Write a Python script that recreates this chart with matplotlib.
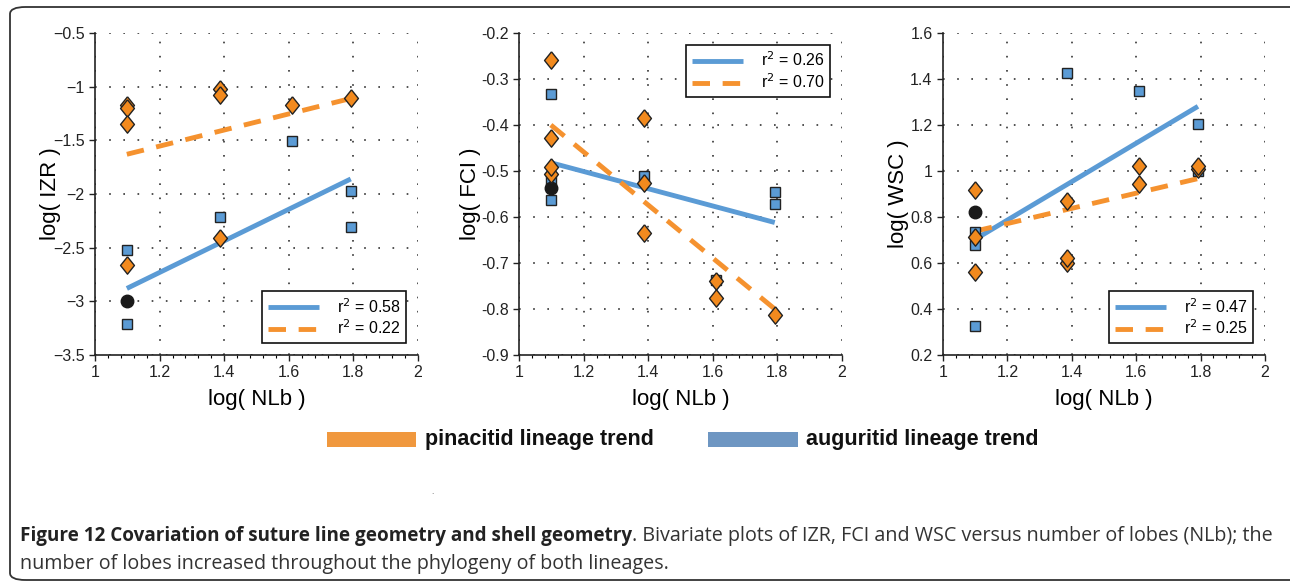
import matplotlib
import matplotlib.pyplot as plt
from matplotlib.patches import FancyBboxPatch, Rectangle
matplotlib.use('Agg')

plt.rcParams['font.family'] = ['Liberation Sans', 'DejaVu Sans']

W, H = 1290, 583

# x positions: log(NLb) for 3, 4, 5, 6 lobes
x3, x4, x5, x6 = 1.0986, 1.3863, 1.6094, 1.7918

# panel 1 - IZR
izr_sq_x = [x3, x3, x4, x5, x6, x6]
izr_sq_y = [-2.52, -3.21, -2.21, -1.51, -1.97, -2.31]
izr_di_x = [x3, x3, x3, x3, x4, x4, x4, x5, x6]
izr_di_y = [-1.17, -1.20, -1.35, -2.66, -1.02, -1.08, -2.41, -1.17, -1.11]
izr_dot = (x3, -3.0)
izr_blue_fit = ([x3, x6], [-2.88, -1.86])
izr_orange_fit = ([x3, x6], [-1.63, -1.11])
izr_r2 = ['0.58', '0.22']
izr_yticks = [-3.5, -3, -2.5, -2, -1.5, -1, -0.5]
izr_ylabels = ['\u22123.5', '\u22123', '\u22122.5', '\u22122', '\u22121.5', '\u22121', '\u22120.5']

# panel 2 - FCI
fci_sq_x = [x3, x3, x3, x4, x5, x6, x6]
fci_sq_y = [-0.332, -0.520, -0.562, -0.511, -0.736, -0.545, -0.572]
fci_di_x = [x3, x3, x3, x3, x4, x4, x4, x5, x5, x6]
fci_di_y = [-0.258, -0.428, -0.506, -0.491, -0.384, -0.527, -0.634, -0.739, -0.776, -0.813]
fci_dot = (x3, -0.536)
fci_blue_fit = ([x3, x6], [-0.482, -0.612])
fci_orange_fit = ([x3, x6], [-0.40, -0.80])
fci_r2 = ['0.26', '0.70']
fci_yticks = [-0.9, -0.8, -0.7, -0.6, -0.5, -0.4, -0.3, -0.2]
fci_ylabels = ['-0.9', '-0.8', '-0.7', '-0.6', '-0.5', '-0.4', '-0.3', '-0.2']

# panel 3 - WSC
wsc_sq_x = [x3, x3, x3, x4, x5, x6, x6]
wsc_sq_y = [0.736, 0.678, 0.327, 1.426, 1.347, 1.203, 0.999]
wsc_di_x = [x3, x3, x3, x4, x4, x4, x5, x5, x6, x6]
wsc_di_y = [0.917, 0.714, 0.562, 0.869, 0.598, 0.620, 1.022, 0.943, 1.010, 1.022]
wsc_dot = (x3, 0.822)
wsc_blue_fit = ([x3, x6], [0.702, 1.281])
wsc_orange_fit = ([x3, x6], [0.738, 0.967])
wsc_r2 = ['0.47', '0.25']
wsc_yticks = [0.2, 0.4, 0.6, 0.8, 1.0, 1.2, 1.4, 1.6]
wsc_ylabels = ['0.2', '0.4', '0.6', '0.8', '1', '1.2', '1.4', '1.6']

xticks = [1, 1.2, 1.4, 1.6, 1.8, 2]
xticklabels = ['1', '1.2', '1.4', '1.6', '1.8', '2']

BLUE = '#5b9bd5'
ORANGE = '#f28a1e'
BLUE_LINE = '#5b9bd5'
ORANGE_LINE = '#f5922f'

# slightly tall diamond like the original
DIAMOND = [(0, 1), (0.8, 0), (0, -1), (-0.8, 0), (0, 1)]

fig = plt.figure(figsize=(W / 100, H / 100), dpi=100)


def px_axes(left, top, right, bottom):
    return fig.add_axes([left / W, 1 - bottom / H, (right - left) / W, (bottom - top) / H])


def panel(ax, sqx, sqy, dix, diy, dot, bfit, ofit, r2, yticks, ylabels, ylabel, legloc, ypad):
    lb, = ax.plot(bfit[0], bfit[1], color=BLUE_LINE, lw=3.5, solid_capstyle='butt', zorder=2)
    lo, = ax.plot(ofit[0], ofit[1], color=ORANGE_LINE, lw=3.5, ls=(0, (3.6, 2.6)), zorder=2)
    ax.plot(sqx, sqy, 's', ms=7.8, mfc=BLUE, mec='#222222', mew=1.0, ls='none', zorder=3)
    ax.plot([dot[0]], [dot[1]], 'o', ms=9, color='#1a1a1a', ls='none', zorder=3)
    ax.plot(dix, diy, marker=DIAMOND, ms=12.5, mfc=ORANGE, mec='#222222', mew=1.0,
            ls='none', zorder=4)

    ax.set_xlim(1, 2)
    ax.set_ylim(yticks[0], yticks[-1])
    ax.set_xticks(xticks)
    ax.set_xticklabels(xticklabels)
    ax.set_xticks([1 + 0.04 * i for i in range(26)], minor=True)
    ax.set_yticks(yticks)
    ax.set_yticklabels(ylabels)
    ax.tick_params(labelsize=11.5, direction='out', length=4, width=1, colors='#222222')
    ax.tick_params(axis='x', which='minor', direction='out', length=2.5, width=0.8)
    ax.grid(True, which='major', color='#333333', ls=(0, (1, 7.5)), lw=1.2)
    for s in ['top', 'right']:
        ax.spines[s].set_visible(False)
    for s in ['left', 'bottom']:
        ax.spines[s].set_linewidth(1.2)
        ax.spines[s].set_color('#222222')
    ax.set_xlabel('log( NLb )', fontsize=16, labelpad=6)
    ax.set_ylabel(ylabel, fontsize=16, labelpad=ypad)
    leg = ax.legend([lb, lo], ['r$^2$ = ' + r2[0], 'r$^2$ = ' + r2[1]], loc=legloc,
                    fontsize=11.5, fancybox=False, edgecolor='#111111', framealpha=1,
                    handlelength=3.2, handletextpad=1.1, borderpad=0.35, labelspacing=0.2,
                    borderaxespad=0.75)
    leg.get_frame().set_linewidth(1.2)


ax1 = px_axes(95, 33, 418, 355)
panel(ax1, izr_sq_x, izr_sq_y, izr_di_x, izr_di_y, izr_dot, izr_blue_fit, izr_orange_fit,
      izr_r2, izr_yticks, izr_ylabels, 'log( IZR )', 'lower right', -6)
ax2 = px_axes(519, 33, 842, 355)
panel(ax2, fci_sq_x, fci_sq_y, fci_di_x, fci_di_y, fci_dot, fci_blue_fit, fci_orange_fit,
      fci_r2, fci_yticks, fci_ylabels, 'log( FCI )', 'upper right', 0)
ax3 = px_axes(943, 33, 1265, 355)
panel(ax3, wsc_sq_x, wsc_sq_y, wsc_di_x, wsc_di_y, wsc_dot, wsc_blue_fit, wsc_orange_fit,
      wsc_r2, wsc_yticks, wsc_ylabels, 'log( WSC )', 'lower right', 1)

# outer frame
frame = FancyBboxPatch((10 / W, 1 - 580 / H), 1300 / W, 573 / H,
                       boxstyle='round,pad=0,rounding_size=0.012', transform=fig.transFigure,
                       fill=False, ec='#333333', lw=1.3, clip_on=False)
fig.patches.append(frame)

# lineage legend
fig.patches.append(Rectangle((327 / W, 1 - 447 / H), 89 / W, 15 / H, transform=fig.transFigure,
                             fc='#f0983e', ec='none'))
fig.text(425 / W, 1 - 440 / H, 'pinacitid lineage trend', fontsize=15.5, fontweight='bold',
         va='center', ha='left', color='#111111')
fig.patches.append(Rectangle((708 / W, 1 - 447 / H), 90 / W, 15 / H, transform=fig.transFigure,
                             fc='#6e96c2', ec='none'))
fig.text(806 / W, 1 - 440 / H, 'auguritid lineage trend', fontsize=15.5, fontweight='bold',
         va='center', ha='left', color='#111111')
fig.text(432 / W, 1 - 494 / H, '.', fontsize=6, color='#555555', ha='center')

# caption
cap_font = ['Open Sans', 'DejaVu Sans']
t1 = fig.text(20 / W, 1 - 536 / H, 'Figure 12 Covariation of suture line geometry and shell geometry',
              fontsize=13.6, fontweight='bold', family=cap_font, va='center', ha='left', color='#222222')
fig.canvas.draw()
bb = t1.get_window_extent()
fig.text(bb.x1 / W, 1 - 536 / H,
         '. Bivariate plots of IZR, FCI and WSC versus number of lobes (NLb); the',
         fontsize=14.2, family=cap_font, va='center', ha='left', color='#333333')
fig.text(20 / W, 1 - 564 / H, 'number of lobes increased throughout the phylogeny of both lineages.',
         fontsize=14.2, family=cap_font, va='center', ha='left', color='#333333')

fig.savefig('out.png', dpi=100)
